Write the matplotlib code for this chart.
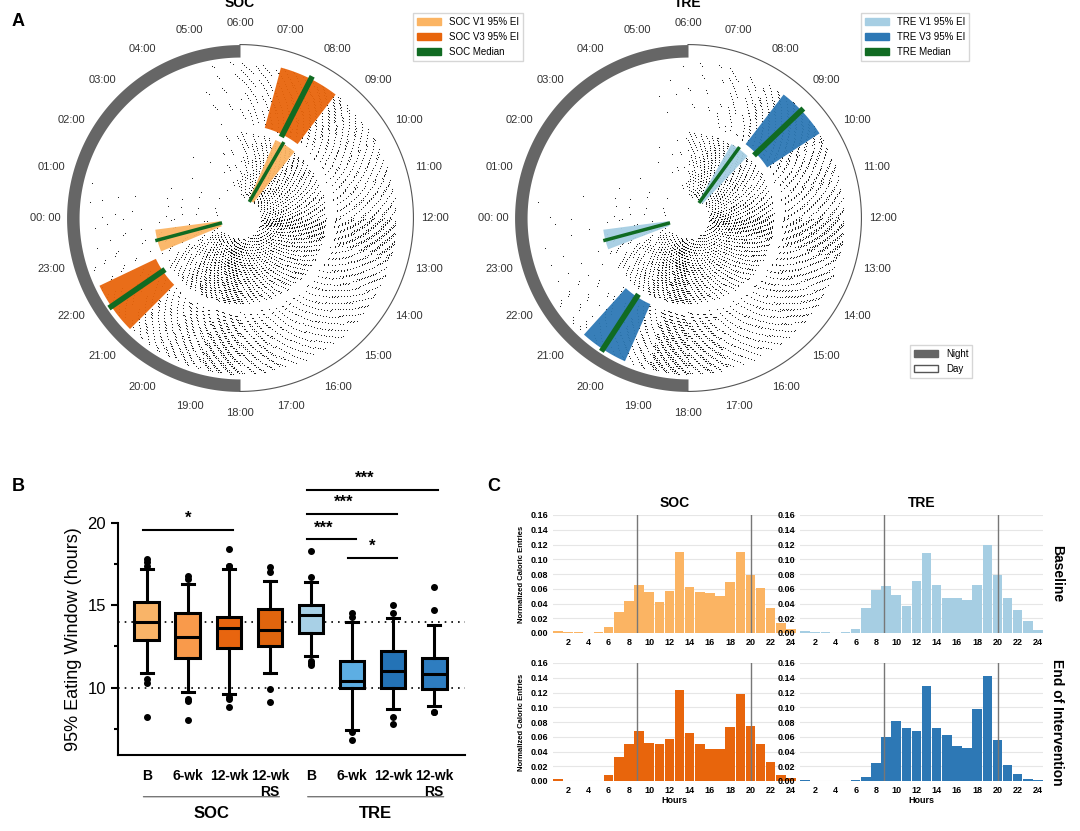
import numpy as np
import matplotlib
matplotlib.use("Agg")
import matplotlib.pyplot as plt
from matplotlib.patches import Patch

plt.rcParams['font.family'] = ['Liberation Sans', 'DejaVu Sans']

hours = np.arange(1, 25)
soc_base = [0.003, 0.002, 0.001, 0.0005, 0.001, 0.008, 0.028, 0.044, 0.065, 0.055, 0.042, 0.057,
            0.110, 0.063, 0.056, 0.054, 0.050, 0.069, 0.110, 0.078, 0.061, 0.034, 0.013, 0.005]
tre_base = [0.003, 0.002, 0.001, 0.0, 0.001, 0.005, 0.034, 0.058, 0.064, 0.051, 0.037, 0.070,
            0.109, 0.065, 0.047, 0.047, 0.045, 0.065, 0.120, 0.079, 0.047, 0.031, 0.016, 0.004]
soc_end = [0.003, 0.0, 0.0, 0.0, 0.0, 0.008, 0.032, 0.050, 0.068, 0.051, 0.050, 0.057,
           0.124, 0.065, 0.050, 0.044, 0.044, 0.073, 0.118, 0.075, 0.050, 0.026, 0.008, 0.004]
tre_end = [0.001, 0.0, 0.0, 0.0, 0.0, 0.002, 0.006, 0.024, 0.059, 0.081, 0.072, 0.068,
           0.129, 0.072, 0.062, 0.047, 0.045, 0.097, 0.142, 0.056, 0.022, 0.009, 0.003, 0.002]

# eating windows (hours of day): start band, start median, end band, end median
soc_v1 = dict(s=(7.6, 8.6), sm=8.0, e=(22.5, 23.5), em=23.0)
soc_v3 = dict(s=(7.0, 8.5), sm=7.8, e=(21.0, 22.3), em=21.7)
tre_v1 = dict(s=(8.0, 8.9), sm=8.4, e=(22.6, 23.5), em=23.0)
tre_v3 = dict(s=(8.5, 9.8), sm=9.1, e=(19.6, 20.8), em=20.2)

box_labels = ["B", "6-wk", "12-wk", "12-wk\nRS", "B", "6-wk", "12-wk", "12-wk\nRS"]
box_med = [14.0, 13.1, 13.6, 13.5, 14.4, 10.4, 11.0, 10.8]
box_q1 = [12.9, 11.8, 12.4, 12.5, 13.3, 10.0, 10.0, 9.9]
box_q3 = [15.2, 14.5, 14.3, 14.8, 15.0, 11.6, 12.2, 11.8]
box_lo = [10.9, 9.7, 9.6, 10.9, 11.9, 7.4, 8.7, 8.9]
box_hi = [17.2, 16.3, 17.2, 16.5, 16.4, 14.0, 14.2, 13.8]
box_fl = [[17.8, 17.6, 17.4, 10.5, 10.3, 8.2], [16.8, 16.6, 9.3, 9.2, 8.0],
          [18.4, 17.4, 17.4, 9.4, 9.3, 8.8], [17.3, 17.0, 9.9, 9.1],
          [18.3, 16.7, 11.6, 11.4, 11.5], [14.5, 14.3, 7.3, 6.8],
          [15.0, 14.5, 8.2, 7.8], [16.1, 14.7, 8.5, 8.5]]
box_col = ["#F9B468", "#F99A4B", "#E8650F", "#E0650E", "#A8D0E6", "#5DAEE3", "#2473B6", "#2E7DC0"]

c_soc1, c_soc3 = "#FBB463", "#E8650C"
c_tre1, c_tre3 = "#A6CEE3", "#2D78B5"
c_med = "#106B22"

fig = plt.figure(figsize=(10.8, 8.31), dpi=100)


def ang(h):
    return ((h - 6) % 24) / 24 * 2 * np.pi


def points(hist, r0, r1, n, seed):
    # texture of eating events, spread per hour from histogram weights
    w = np.array(hist) / np.sum(hist)
    counts = np.round(w * n).astype(int)
    th, rr = [], []
    g1, g2 = 0.6180339887, 0.7548776662
    k = seed
    for i, c in enumerate(counts):
        for j in range(c):
            k += 1
            th.append(ang(i + (k * g1) % 1.0))
            rr.append(r0 + (r1 - r0) * ((k * g2) % 1.0) ** 0.8)
    return th, rr


def clock(rect, title, h1, h3, v1, v3, c1, c3, labs):
    ax = fig.add_axes(rect, projection='polar')
    ax.set_theta_zero_location('N')
    ax.set_theta_direction(-1)
    ax.grid(False)
    ax.spines['polar'].set_visible(False)
    # night / day ring
    tn = np.linspace(np.pi, 2 * np.pi, 200)
    ax.fill_between(tn, 1.03, 1.11, color="#666666", lw=0)
    td = np.linspace(0, np.pi, 200)
    ax.plot(td, np.full_like(td, 1.11), color="#555555", lw=0.8)
    # points
    t, r = points(h1, 0.13, 0.55, 2600, 0)
    ax.scatter(t, r, s=0.6, color="black", lw=0)
    t, r = points(h3, 0.6, 1.0, 2600, 5000)
    ax.scatter(t, r, s=0.6, color="black", lw=0)
    for v, c, r0, r1 in [(v1, c1, 0.13, 0.55), (v3, c3, 0.6, 1.0)]:
        for b, m in [(v['s'], v['sm']), (v['e'], v['em'])]:
            tb = np.linspace(ang(b[0]), ang(b[1]), 50)
            ax.fill_between(tb, r0, r1, color=c, alpha=0.95, lw=0)
            ax.plot([ang(m)] * 2, [r0, r1], color=c_med, lw=4 if r0 > 0.5 else 2.5)
    ax.set_thetalim(0, 2 * np.pi)
    ax.set_ylim(0, 1.12)
    ax.set_yticks([])
    ax.set_xticks([ang(h) for h in range(24)])
    ax.set_xticklabels(["00: 00" if h == 0 else "%02d:00" % h for h in range(24)],
                       fontsize=8, color="#333333")
    ax.tick_params(axis='x', pad=4)
    ax.set_title(title, fontsize=10, fontweight='bold', pad=8)
    handles = [Patch(color=c1, label=labs[0]), Patch(color=c3, label=labs[1]),
               Patch(color=c_med, label=labs[2])]
    fig.legend(handles=handles, loc='upper left', fontsize=7,
               bbox_to_anchor=(rect[0] + rect[2] * 0.98, 0.99), frameon=True,
               fancybox=False, edgecolor="#cccccc", handlelength=2.5)
    return ax


clock([65 / 1080, 1 - 393 / 831, 350 / 1080, 350 / 831], "SOC", soc_base, soc_end,
      soc_v1, soc_v3, c_soc1, c_soc3, ["SOC V1 95% EI", "SOC V3 95% EI", "SOC Median"])
clock([513 / 1080, 1 - 393 / 831, 350 / 1080, 350 / 831], "TRE", tre_base, tre_end,
      tre_v1, tre_v3, c_tre1, c_tre3, ["TRE V1 95% EI", "TRE V3 95% EI", "TRE Median"])
fig.legend(handles=[Patch(color="#666666", label="Night"),
                    Patch(facecolor="white", edgecolor="#555555", label="Day")],
           loc='upper left', bbox_to_anchor=(905 / 1080, 1 - 340 / 831), fontsize=7,
           fancybox=False, edgecolor="#cccccc", handlelength=2.5)

# panel B
axb = fig.add_axes([118 / 1080, 76 / 831, 347 / 1080, 232 / 831])
stats = []
for i in range(8):
    stats.append(dict(med=box_med[i], q1=box_q1[i], q3=box_q3[i], whislo=box_lo[i],
                      whishi=box_hi[i], fliers=box_fl[i]))
bp = axb.bxp(stats, positions=range(1, 9), widths=0.6, patch_artist=True,
             boxprops=dict(lw=2.2), medianprops=dict(color="black", lw=2.2),
             whiskerprops=dict(lw=2.2), capprops=dict(lw=2.2),
             flierprops=dict(marker='o', markerfacecolor='black', markeredgecolor='black',
                             markersize=4))
for p, c in zip(bp['boxes'], box_col):
    p.set_facecolor(c)
for y in (14, 10):
    axb.axhline(y, color="black", ls=(0, (1, 3)), lw=1.2, zorder=0)
axb.set_xlim(0.3, 8.75)
axb.set_ylim(5.9, 20)
axb.set_yticks([10, 15, 20])
axb.set_yticks([7.5, 12.5, 17.5], minor=True)
axb.tick_params(axis='y', labelsize=12, width=1.5, length=5)
axb.tick_params(axis='y', which='minor', width=1.5, length=3)
axb.set_xticks(range(1, 9))
axb.set_xticklabels(box_labels, fontsize=10, fontweight='bold', va='top')
axb.tick_params(axis='x', length=0, pad=10)
for s in ('top', 'right'):
    axb.spines[s].set_visible(False)
axb.spines['left'].set_bounds(5.9, 20)
axb.spines['left'].set_linewidth(1.5)
axb.spines['bottom'].set_linewidth(1.5)
axb.set_ylabel("95% Eating Window (hours)", fontsize=13)
sig = [(1, 3, 19.6, "*"), (5, 6, 19.0, "***"), (5, 7, 20.55, "***"),
       (5, 8, 22.0, "***"), (6, 7, 17.9, "*")]
for a, b, y, s in sig:
    axb.plot([a - 0.1, b + 0.1], [y, y], color="black", lw=1.5, clip_on=False)
    axb.text((a + b) / 2 - 0.2 * (s == "***"), y + 0.25, s, ha='center', va='bottom',
             fontsize=12, fontweight='bold', clip_on=False)
for a, b, name in [(0.85, 4.3, "SOC"), (4.85, 8.3, "TRE")]:
    axb.annotate("", xy=(a, -0.18), xytext=(b, -0.18), xycoords=('data', 'axes fraction'),
                 arrowprops=dict(arrowstyle='-', color="#555555", lw=0.8))
    axb.text((a + b) / 2, -0.22, name, transform=axb.get_xaxis_transform(),
             ha='center', va='top', fontsize=12, fontweight='bold')

# panel C
hist_rows = [[soc_base, tre_base], [soc_end, tre_end]]
hist_col = [[c_soc1, c_tre1], [c_soc3, c_tre3]]
lefts = [553 / 1080, 800 / 1080]
bottoms = [1 - 633 / 831, 1 - 781 / 831]
for r in range(2):
    for c in range(2):
        ax = fig.add_axes([lefts[c], bottoms[r], 243 / 1080, 118 / 831])
        ax.bar(hours, hist_rows[r][c], width=0.95, color=hist_col[r][c], zorder=2)
        ax.axvline(8.75, color="#777777", lw=1, zorder=3)
        ax.axvline(20.05, color="#777777", lw=1, zorder=3)
        ax.set_xlim(0.5, 24.5)
        ax.set_ylim(0, 0.16)
        ax.set_yticks(np.arange(0, 0.161, 0.02))
        ax.yaxis.set_major_formatter(matplotlib.ticker.FormatStrFormatter('%.2f'))
        ax.set_xticks(range(2, 25, 2))
        ax.tick_params(length=0, labelsize=6.5)
        for lab in ax.get_xticklabels() + ax.get_yticklabels():
            lab.set_fontweight('bold')
        ax.grid(axis='y', color="#e6e6e6", lw=0.8, zorder=0)
        for s in ax.spines.values():
            s.set_visible(False)
        if r == 0:
            ax.set_title(["SOC", "TRE"][c], fontsize=10, fontweight='bold')
        else:
            ax.set_xlabel("Hours", fontsize=6.5, fontweight='bold', labelpad=1)
        if c == 0:
            ax.set_ylabel("Normalized Caloric Entries", fontsize=5.5, fontweight='bold')
        else:
            ax.text(1.03, 0.5, ["Baseline", "End of Intervention"][r], transform=ax.transAxes,
                    rotation=-90, ha='left', va='center', fontsize=10, fontweight='bold')

fig.text(12 / 1080, 1 - 22 / 831, "A", fontsize=13, fontweight='bold', va='center')
fig.text(12 / 1080, 1 - 487 / 831, "B", fontsize=13, fontweight='bold', va='center')
fig.text(487 / 1080, 1 - 487 / 831, "C", fontsize=13, fontweight='bold', va='center')

fig.savefig("out.png", dpi=100)
